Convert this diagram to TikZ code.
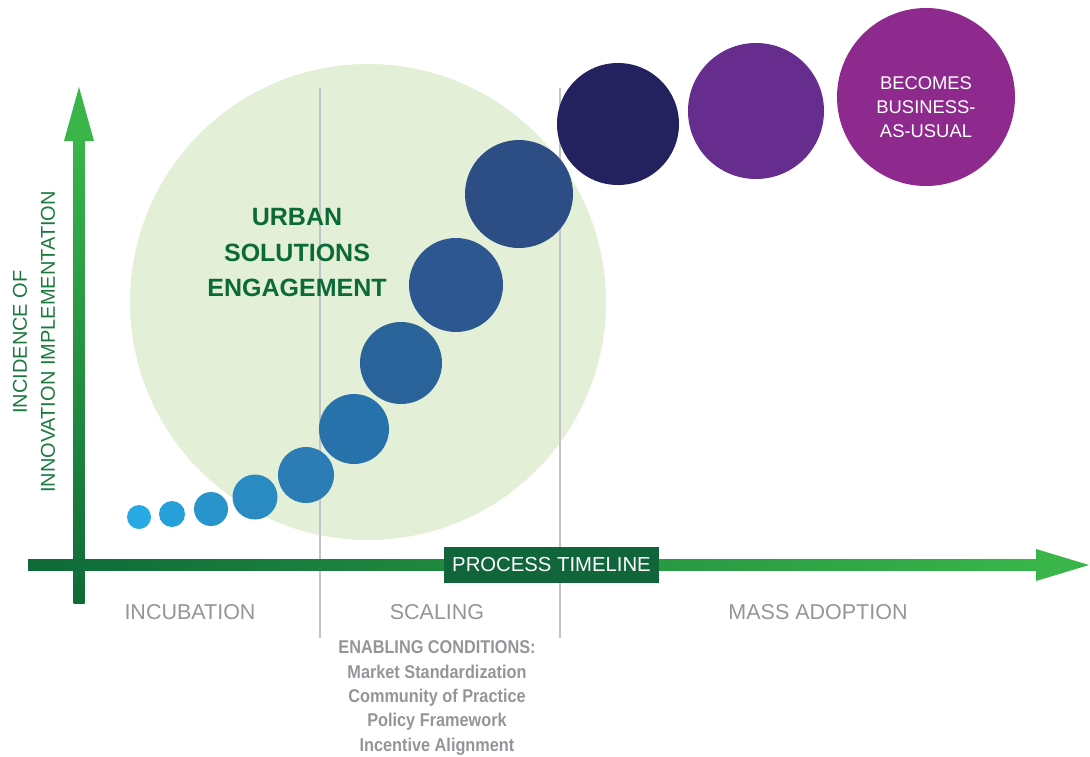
\documentclass[tikz,border=0pt]{standalone}
\usepackage{fontspec}
\setmainfont{Liberation Sans}
\newfontfamily\narrowsans{Liberation Sans}[FakeStretch=0.88]
\usepackage{xcolor}
\definecolor{haze}{HTML}{E3EFD6}
\definecolor{blueA}{HTML}{27A9E1}
\definecolor{blueB}{HTML}{26A0D8}
\definecolor{blueC}{HTML}{2993CC}
\definecolor{blueD}{HTML}{2A8AC2}
\definecolor{blueE}{HTML}{2C7DB5}
\definecolor{blueF}{HTML}{2872AC}
\definecolor{blueG}{HTML}{2A629A}
\definecolor{blueH}{HTML}{2C5791}
\definecolor{blueI}{HTML}{2D4E85}
\definecolor{navy}{HTML}{24215F}
\definecolor{violet}{HTML}{662D8F}
\definecolor{plum}{HTML}{8E2A8E}
\definecolor{axdark}{HTML}{0E6A38}
\definecolor{axbright}{HTML}{39B54A}
\definecolor{boxgreen}{HTML}{10663A}
\definecolor{labelgreen}{HTML}{1C7A40}
\definecolor{deepgreen}{HTML}{0B6A38}
\definecolor{phasegray}{HTML}{939598}
\definecolor{rule}{HTML}{C4C4C8}
\tikzset{bubble/.style={circle, inner sep=0pt, draw=none}}
\tikzset{phase/.style={text=phasegray, font=\fontsize{21.5}{24}\selectfont}}
\tikzset{divider/.style={draw=rule, line width=1.2pt}}

\begin{document}
\begin{tikzpicture}[x=1pt, y=-1pt]
  \useasboundingbox (0,0) rectangle (1090,756);

  \node[bubble, fill=haze, minimum size=476pt] (zone) at (368,302) {};

  \coordinate (d1t) at (320,88);
  \coordinate (d1b) at (320,638);
  \coordinate (d2t) at (560,88);
  \coordinate (d2b) at (560,638);
  \draw[divider] (d1t) -- (d1b);
  \draw[divider] (d2t) -- (d2b);

  \node[bubble, fill=blueA, minimum size=24pt] (b1) at (139,517) {};
  \node[bubble, fill=blueB, minimum size=26pt] (b2) at (172,514) {};
  \node[bubble, fill=blueC, minimum size=34pt] (b3) at (211,509) {};
  \node[bubble, fill=blueD, minimum size=45pt] (b4) at (255,497) {};
  \node[bubble, fill=blueE, minimum size=56pt] (b5) at (306,475) {};
  \node[bubble, fill=blueF, minimum size=70pt] (b6) at (354,429) {};
  \node[bubble, fill=blueG, minimum size=82pt] (b7) at (401,363) {};
  \node[bubble, fill=blueH, minimum size=94pt] (b8) at (456,285) {};
  \node[bubble, fill=blueI, minimum size=108pt] (b9) at (519,194) {};
  \node[bubble, fill=navy, minimum size=122pt] (b10) at (618,124) {};
  \node[bubble, fill=violet, minimum size=136pt] (b11) at (756,111) {};
  \node[bubble, fill=plum, minimum size=178pt] (b12) at (926,97) {};
  \node[align=center, text=white, font=\fontsize{18.4}{24}\selectfont] (bau) at (926,107) {BECOMES\\BUSINESS-\\AS-USUAL};

  \node[align=center, text=deepgreen, font=\bfseries\fontsize{25}{35.5}\selectfont] (use) at (297,253) {URBAN\\SOLUTIONS\\ENGAGEMENT};

  % axes
  \coordinate (origin) at (79,565);
  \coordinate (xtip) at (1089,565);
  \coordinate (ytip) at (79,87);
  \shade[bottom color=axdark, top color=axbright] (73.5,603) rectangle (84.5,140);
  \fill[axbright] (64,141) -- (ytip) -- (94,141) -- cycle;
  \shade[left color=axdark, right color=axbright] (28,559.5) rectangle (1040,570.5);
  \fill[axbright] (1036,549) -- (xtip) -- (1036,581) -- cycle;

  \node[fill=boxgreen, text=white, minimum width=215pt, minimum height=36pt, inner sep=0pt, font=\fontsize{20.3}{24}\selectfont] (timeline) at (551.5,565) {PROCESS TIMELINE};

  \node[rotate=90, align=center, text=labelgreen, font=\fontsize{20}{28}\selectfont] (ylabel) at (34,342) {INCIDENCE OF\\INNOVATION IMPLEMENTATION};

  \node[phase] (incubation) at (190,612) {INCUBATION};
  \node[phase] (scaling) at (437,612) {SCALING};
  \node[phase] (mass) at (818,612) {MASS ADOPTION};

  \node[align=center, text=phasegray, font=\narrowsans\bfseries\fontsize{18.5}{24.3}\selectfont] (enabling) at (437,698) {ENABLING CONDITIONS:\\Market Standardization\\Community of Practice\\Policy Framework\\Incentive Alignment};
\end{tikzpicture}
\end{document}
